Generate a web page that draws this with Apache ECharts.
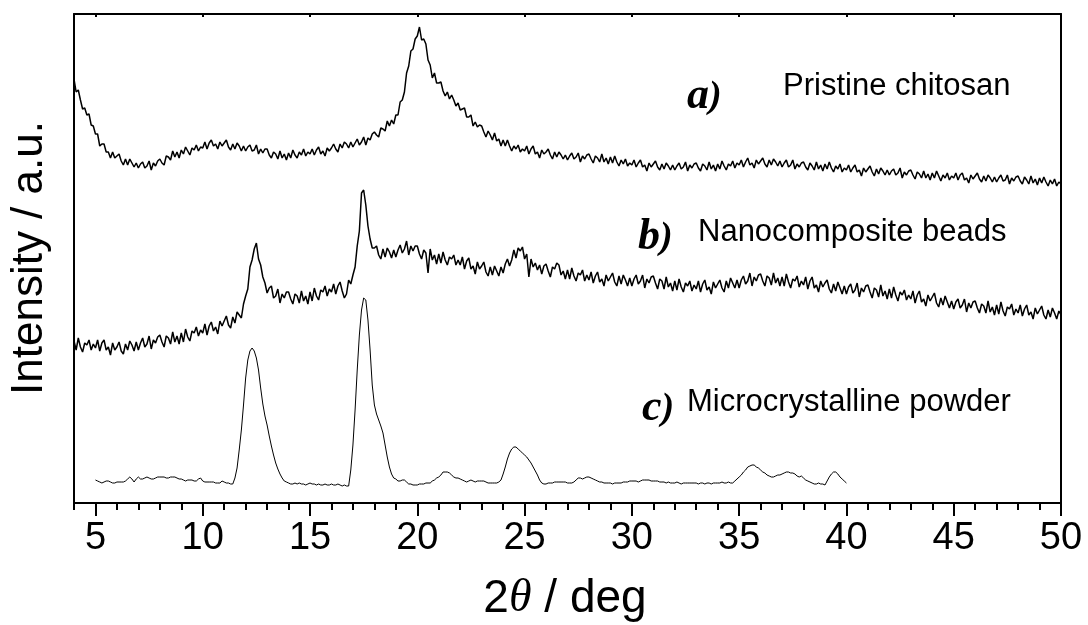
<!DOCTYPE html>
<html><head><meta charset="utf-8">
<script src="https://cdn.jsdelivr.net/npm/echarts@6/dist/echarts.min.js"></script>
<style>html,body{margin:0;padding:0;background:#fff}#c{width:1088px;height:625px}</style>
</head><body><div id="c"></div>
<script>
// 2theta grid of the scans (deg)
const startAB = 4.0;
const startC = 5.0;
const step = 0.1;

// a) Pristine chitosan, intensity (a.u.), 4.0 .. 50.0 deg
const pristineChitosan = [
424,411,413,403,394,395,388,389,378,377,
369,369,357,359,359,351,351,345,351,345,
347,349,342,338,344,338,344,340,336,340,
335,339,341,335,337,342,333,340,337,342,
344,340,338,347,346,343,352,346,351,345,
353,349,356,352,348,355,353,358,352,356,
355,361,354,360,363,357,359,354,361,357,
360,363,356,353,359,354,360,357,352,357,
352,356,358,352,353,358,349,354,350,354,
354,348,345,351,349,344,352,345,349,343,
350,345,353,348,345,351,348,354,347,351,
349,354,348,353,356,349,352,347,355,352,
355,359,354,351,359,355,361,359,355,361,
356,360,364,358,361,366,358,365,363,369,
371,368,366,375,374,372,382,377,383,379,
388,388,401,403,411,430,437,452,454,464,
467,476,463,464,459,443,438,425,430,420,
420,421,412,407,411,404,408,403,397,400,
393,394,395,386,386,388,377,381,376,378,
377,371,366,372,368,363,370,362,364,357,
363,357,363,357,352,357,354,358,351,354,
352,357,349,354,357,349,351,345,353,349,
351,354,348,344,351,346,351,348,344,348,
343,347,350,344,346,350,341,347,344,348,
349,344,340,347,345,341,349,341,345,339,
346,340,347,341,337,343,339,344,337,340,
338,343,336,340,343,336,338,332,340,336,
339,342,336,333,339,334,340,337,333,338,
333,337,340,334,336,341,332,338,335,339,
340,335,332,339,337,333,341,334,338,332,
339,334,342,337,333,339,337,342,335,340,
338,343,336,341,345,338,340,335,343,339,
342,345,339,336,343,338,344,341,337,342,
336,340,343,336,338,343,334,339,336,340,
341,336,333,340,337,333,341,334,338,332,
339,334,341,335,331,337,334,339,331,335,
333,338,331,335,338,331,333,327,335,331,
334,337,331,327,334,329,335,332,328,333,
328,332,334,328,330,335,325,331,328,332,
333,328,324,331,329,325,332,325,329,323,
330,325,332,327,322,328,325,330,323,327,
325,330,323,328,330,323,325,320,328,324,
327,330,324,321,327,322,328,325,321,326,
321,325,328,322,323,328,319,325,322,326,
327,322,319,326,323,319,327,320,324,318,
325,320,326,321,317,323,319,324,317,321,
319
];

// b) Nanocomposite beads, intensity (a.u.), 4.0 .. 50.0 deg
const nanocompositeBeads = [
162,153,165,156,151,160,158,163,153,159,
155,163,152,160,163,153,156,148,160,153,
156,161,152,149,159,153,162,158,152,161,
153,160,165,156,159,167,154,163,160,166,
168,161,156,167,165,159,171,161,167,159,
170,161,174,166,162,172,170,176,167,173,
170,179,168,177,181,172,176,169,182,177,
182,187,178,175,186,180,191,188,185,199,
207,214,236,243,254,260,244,238,226,220,
210,215,217,205,207,214,200,209,205,211,
211,204,199,209,207,200,212,202,207,199,
211,202,215,207,203,213,211,217,207,214,
211,219,209,217,221,212,205,209,223,219,
228,236,257,272,310,313,298,277,264,255,
255,257,248,244,254,246,255,251,245,253,
246,253,258,250,254,262,248,257,252,257,
257,249,244,253,250,230,254,243,248,239,
249,240,251,243,238,246,244,248,238,243,
238,246,234,242,245,234,237,229,241,234,
237,241,231,227,236,228,237,232,227,236,
230,239,244,237,243,253,245,255,252,256,
244,249,226,244,236,240,233,238,229,237,
239,232,226,236,234,240,238,228,232,224,
233,224,235,227,222,230,228,233,222,228,
223,231,220,227,231,221,224,217,228,222,
226,230,221,217,227,219,228,223,217,225,
217,224,228,219,222,228,215,224,220,226,
227,220,214,224,222,214,226,216,220,212,
222,213,224,216,211,220,217,222,212,218,
214,222,211,219,223,213,216,209,221,215,
219,223,215,211,222,215,225,220,215,223,
215,223,227,219,222,230,217,226,222,228,
229,222,217,227,225,218,230,220,225,217,
226,217,229,221,215,224,222,227,216,222,
218,226,214,222,226,215,218,211,222,216,
220,223,214,210,219,212,221,215,209,217,
209,216,219,210,213,220,206,215,211,217,
218,211,205,215,213,206,218,207,212,204,
214,205,216,208,202,211,208,213,203,208,
204,212,200,208,212,201,204,197,208,202,
206,210,200,196,205,198,207,201,195,202,
194,201,204,195,198,204,191,200,195,201,
202,195,190,199,197,190,202,191,196,188,
198,189,201,192,187,196,194,199,188,194,
190,198,187,194,198,188,191,184,195,189,
193,197,188,184,193,186,195,190,184,192,
188
];

// c) Microcrystalline powder, intensity (a.u.), 5.0 .. 40.0 deg
const microcrystallinePowder = [
23,22,21,20,21,22,22,21,20,20,
21,21,21,21,22,24,26,24,21,24,
26,24,24,25,26,25,24,24,25,26,
26,26,26,25,25,26,26,26,25,24,
24,23,22,23,23,23,22,22,24,25,
22,21,21,21,21,21,20,20,20,22,
21,20,20,19,19,25,35,53,73,98,
125,143,152,155,152,145,133,115,99,87,
78,67,57,48,40,34,29,25,22,21,
20,19,19,20,19,20,19,19,18,19,
20,19,19,18,19,18,18,19,18,18,
19,18,18,19,18,17,18,17,17,33,
58,93,133,168,193,205,203,183,153,118,
98,89,83,77,70,58,46,36,29,25,
24,22,22,23,23,21,19,19,18,18,
18,19,19,19,20,20,20,22,23,25,
26,28,31,31,31,30,28,26,25,25,
24,23,22,21,22,23,22,21,22,22,
22,22,21,20,20,20,20,20,21,23,
29,36,44,50,54,56,56,54,52,50,
48,46,43,40,36,32,28,23,20,19,
19,20,20,20,21,21,21,21,21,21,
20,20,20,21,23,25,25,24,25,26,
26,25,24,23,22,21,21,20,20,20,
20,19,20,20,20,20,21,21,21,22,
22,22,22,21,22,23,23,23,23,22,
22,22,22,21,21,21,20,21,20,20,
20,21,20,19,20,20,20,20,20,20,
20,19,20,20,19,20,20,19,20,20,
20,20,21,20,20,21,20,20,22,24,
26,28,31,33,36,37,38,38,36,35,
33,31,30,28,27,26,26,27,28,28,
29,30,31,31,30,30,29,27,26,27,
25,23,22,21,20,19,19,20,19,19,
18,22,26,29,31,31,29,26,24,22,
20
];

const majorTicks = [5, 10, 15, 20, 25, 30, 35, 40, 45, 50];
const minorTicks = [4,5,6,7,8,9,10,11,12,13,14,15,16,17,18,19,20,21,22,23,24,25,26,27,28,29,30,31,32,33,34,35,36,37,38,39,40,41,42,43,44,45,46,47,48,49,50];
const xMin = 4, xMax = 50, yMin = 0, yMax = 489;

function toPairs(start, vals) {
  return vals.map((v, i) => [Math.round((start + i * step) * 100) / 100, v]);
}

const chart = echarts.init(document.getElementById('c'), null, {renderer: 'canvas'});
const SANS = 'Liberation Sans, Arial, sans-serif';
const SERIF = 'Liberation Serif, Times New Roman, serif';
const lineCommon = {type: 'line', showSymbol: false, symbol: 'none', silent: true, animation: false};

function txt(x, y, text, rich) {
  return {
    type: 'text', x: x, y: y, silent: true,
    style: {text: text, rich: rich, fill: '#000',
      align: 'left', textAlign: 'left', verticalAlign: 'middle', textVerticalAlign: 'middle'}
  };
}

const labelRich = {
  l: {fontFamily: SERIF, fontWeight: 'bold', fontStyle: 'italic', fontSize: 44, color: '#000'},
  p: {fontFamily: SERIF, fontWeight: 'bold', fontStyle: 'italic', fontSize: 38, color: '#000'}
};
const nameRich = {n: {fontFamily: SANS, fontSize: 31, color: '#000'}};

chart.setOption({
  animation: false,
  backgroundColor: '#fff',
  grid: {left: 74, right: 27, top: 14, bottom: 122, containLabel: false},
  xAxis: [
    {type: 'value', min: xMin, max: xMax, position: 'bottom',
      axisLine: {show: true, onZero: false, lineStyle: {color: '#000', width: 2}},
      axisTick: {show: true, customValues: majorTicks, length: 13, lineStyle: {color: '#000', width: 2}},
      axisLabel: {show: true, customValues: majorTicks, fontSize: 38, fontFamily: SANS, color: '#000', margin: 17},
      splitLine: {show: false}},
    {type: 'value', min: xMin, max: xMax, position: 'bottom',
      axisLine: {show: false},
      axisTick: {show: true, customValues: minorTicks, length: 7, lineStyle: {color: '#000', width: 2}},
      axisLabel: {show: false}, splitLine: {show: false}},
    {type: 'value', min: xMin, max: xMax, position: 'top',
      axisLine: {show: true, onZero: false, lineStyle: {color: '#000', width: 2}},
      axisTick: {show: true, customValues: majorTicks, inside: true, length: 3, lineStyle: {color: '#000', width: 2}},
      axisLabel: {show: false}, splitLine: {show: false}}
  ],
  yAxis: [
    {type: 'value', min: yMin, max: yMax, position: 'left',
      axisLine: {show: true, onZero: false, lineStyle: {color: '#000', width: 2}},
      axisTick: {show: false}, axisLabel: {show: false}, splitLine: {show: false}},
    {type: 'value', min: yMin, max: yMax, position: 'right',
      axisLine: {show: true, onZero: false, lineStyle: {color: '#000', width: 2}},
      axisTick: {show: false}, axisLabel: {show: false}, splitLine: {show: false}}
  ],
  series: [
    Object.assign({name: 'Pristine chitosan', data: toPairs(startAB, pristineChitosan),
      lineStyle: {color: '#000', width: 1.5}}, lineCommon),
    Object.assign({name: 'Nanocomposite beads', data: toPairs(startAB, nanocompositeBeads),
      lineStyle: {color: '#000', width: 1.5}}, lineCommon),
    Object.assign({name: 'Microcrystalline powder', data: toPairs(startC, microcrystallinePowder),
      lineStyle: {color: '#000', width: 1}}, lineCommon)
  ],
  graphic: [
    txt(687, 97, '{l|a}{p|)}', labelRich),
    txt(783, 86, '{n|Pristine chitosan}', nameRich),
    txt(638, 238, '{l|b}{p|)}', labelRich),
    txt(698, 232, '{n|Nanocomposite beads}', nameRich),
    txt(642, 409, '{l|c}{p|)}', labelRich),
    txt(687, 402, '{n|Microcrystalline powder}', nameRich),
    {type: 'text', x: 30, y: 258, rotation: Math.PI / 2, silent: true,
      style: {text: 'Intensity / a.u.', fill: '#000', font: '44px ' + SANS, fontSize: 44, fontFamily: SANS,
        align: 'center', textAlign: 'center', verticalAlign: 'middle', textVerticalAlign: 'middle'}},
    {type: 'text', x: 565, y: 599, silent: true,
      style: {text: '{a|2}{b|\u03B8}{a| / deg}', fill: '#000',
        rich: {a: {fontFamily: SANS, fontSize: 46, color: '#000'},
               b: {fontFamily: SERIF, fontStyle: 'italic', fontSize: 46, color: '#000'}},
        align: 'center', textAlign: 'center', verticalAlign: 'middle', textVerticalAlign: 'middle'}}
  ]
});
</script>
</body></html>
